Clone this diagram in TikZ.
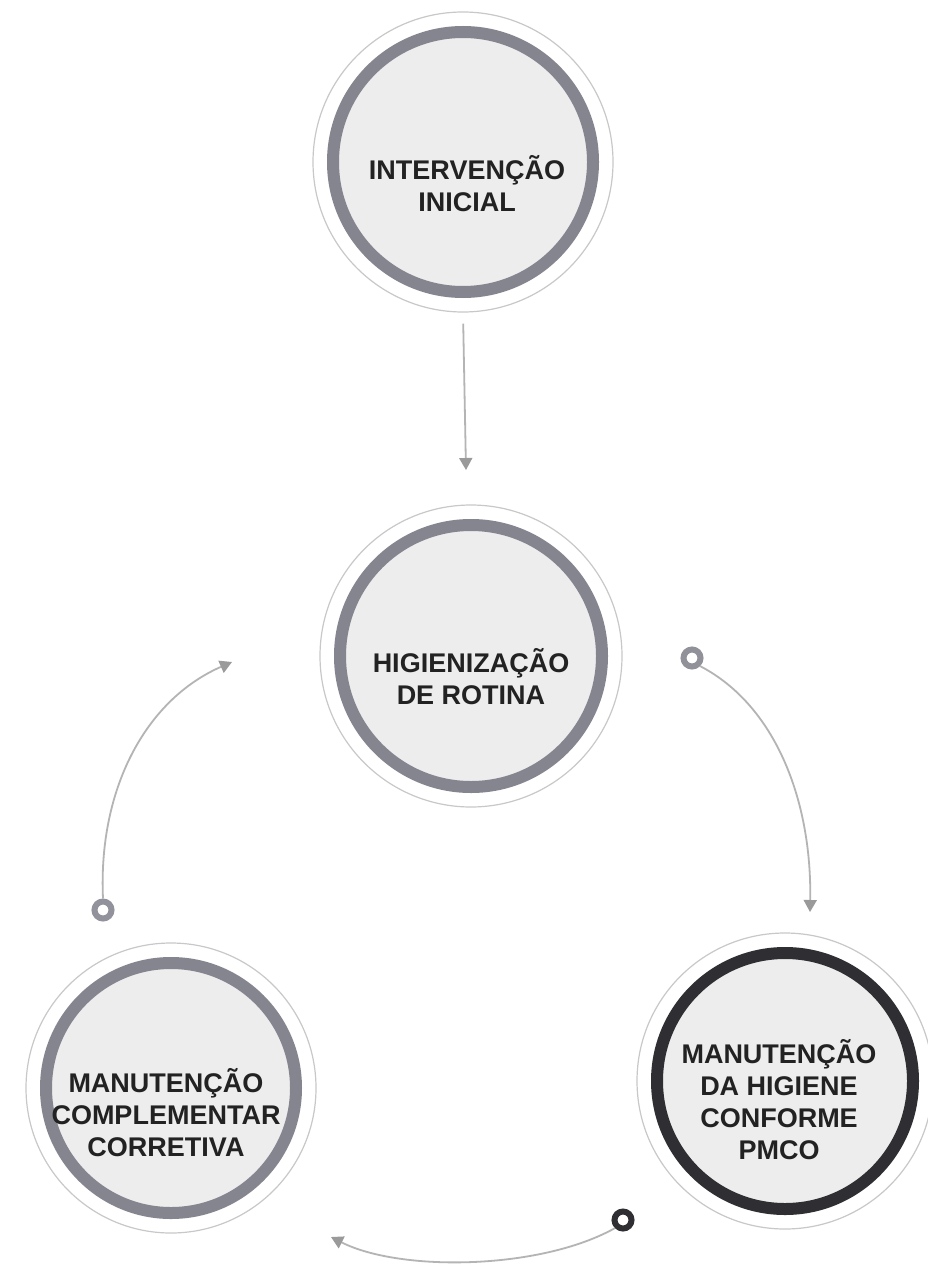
\documentclass[tikz,border=0pt]{standalone}
\usepackage{fontspec}
\setmainfont{Liberation Sans}
\usetikzlibrary{arrows.meta}
\definecolor{ringgray}{HTML}{85858F}
\definecolor{ringdark}{HTML}{2E2E33}
\definecolor{innerfill}{HTML}{EDEDED}
\definecolor{haloline}{HTML}{C8C8C8}
\definecolor{conn}{HTML}{B4B4B4}
\definecolor{tipgray}{HTML}{9A9A9A}
\definecolor{txt}{HTML}{222222}
\tikzset{
  ringnode/.style={circle, draw=ringgray, line width=12pt, fill=innerfill, minimum size=#1, inner sep=0pt},
  halonode/.style={circle, draw=haloline, line width=1.2pt, fill=white, minimum size=#1, inner sep=0pt},
  labeltext/.style={text=txt, align=center, font=\bfseries\fontsize{27}{32}\selectfont},
  marker/.style={circle, draw=#1, line width=6pt, minimum size=17pt, inner sep=0pt},
  connector/.style={draw=conn, line width=1.8pt, -{Triangle[length=12pt,width=13pt,fill=tipgray,color=tipgray]}},
}
\begin{document}
\begin{tikzpicture}[x=1pt,y=-1pt]
\useasboundingbox[fill=white] (0,0) rectangle (928,1276);

% circles
\node[halonode=300] (h1) at (463,162) {};
\node[ringnode=260] (c1) at (463,162) {};
\node[labeltext] (t1) at (467,184) {INTERVENÇÃO\\INICIAL};

\node[halonode=302] (h2) at (471,656) {};
\node[ringnode=262] (c2) at (471,656) {};
\node[labeltext] (t2) at (471,677) {HIGIENIZAÇÃO\\DE ROTINA};

\node[halonode=296] (h3) at (785,1081) {};
\node[ringnode=256, draw=ringdark] (c3) at (785,1081) {};
\node[labeltext] (t3) at (779,1100) {MANUTENÇÃO\\DA HIGIENE\\CONFORME\\PMCO};

\node[halonode=290] (h4) at (171,1088) {};
\node[ringnode=250] (c4) at (171,1088) {};
\node[labeltext] (t4) at (166,1113) {MANUTENÇÃO\\COMPLEMENTAR\\CORRETIVA};

% small ring markers
\node[marker=ringgray!90] (m1) at (692,658) {};
\node[marker=ringgray!110!black] (m2) at (103,910) {};
\node[marker=ringdark] (m3) at (623,1220) {};

% connector end points
\coordinate (e1) at (466,470);
\coordinate (e2) at (810,912);
\coordinate (e3) at (232,662);
\coordinate (e4) at (331,1237);

% connectors
\draw[connector, shorten <=11pt] (h1.south) -- (e1);
\draw[connector] (m1.south east) .. controls (775,705) and (812,800) .. (e2);
\draw[connector] (m2.north) .. controls (98,790) and (145,700) .. (e3);
\draw[connector] (m3.south west) .. controls (540,1270) and (400,1272) .. (e4);
\end{tikzpicture}
\end{document}
